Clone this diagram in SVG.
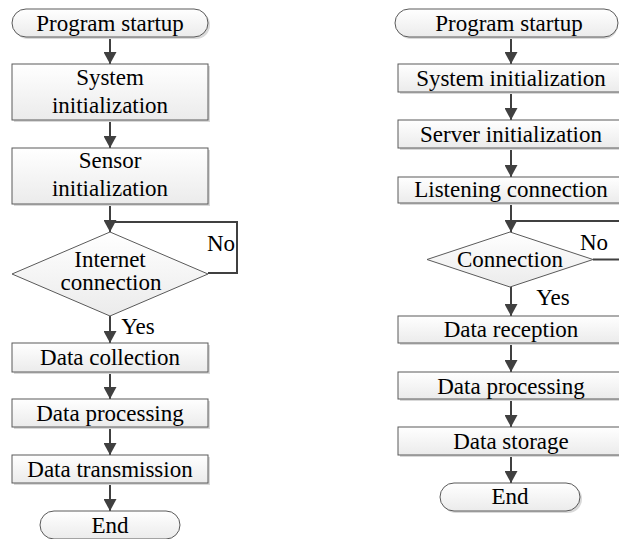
<svg xmlns="http://www.w3.org/2000/svg" width="619" height="539" viewBox="0 0 619 539">
<defs>
<linearGradient id="g" x1="0" y1="0" x2="0" y2="1">
<stop offset="0" stop-color="#ffffff"/>
<stop offset="1" stop-color="#ebebeb"/>
</linearGradient>
<marker id="ah" viewBox="0 0 12 13" refX="12" refY="6.5" markerWidth="12" markerHeight="13" markerUnits="userSpaceOnUse" orient="auto">
<path d="M0,0 L12,6.5 L0,13 z" fill="#404040"/>
</marker>
</defs>
<style>
.n{fill:url(#g);stroke:#5a5a5a;stroke-width:1}
.s{fill:#d9d9d9;stroke:none}
.t{font-family:'Liberation Serif','Times New Roman',Tinos,'Nimbus Roman','Noto Serif','DejaVu Serif',FreeSerif,Times,serif;font-size:23px;fill:#000;text-anchor:middle}
.c{fill:none;stroke:#404040;stroke-width:2}
.ca{fill:none;stroke:#404040;stroke-width:2;marker-end:url(#ah)}
</style>
<rect width="619" height="539" fill="#fff"/>
<g id="connectors">
<line class="ca" x1="110" y1="37" x2="110" y2="64"/>
<line class="ca" x1="110" y1="120" x2="110" y2="148"/>
<line class="ca" x1="110" y1="204" x2="110" y2="232"/>
<path class="c" d="M208,273 H237 V222 H110"/>
<line class="ca" x1="110" y1="316" x2="110" y2="343"/>
<line class="ca" x1="110" y1="372" x2="110" y2="399"/>
<line class="ca" x1="110" y1="427" x2="110" y2="455"/>
<line class="ca" x1="110" y1="483" x2="110" y2="511"/>
<line class="ca" x1="511" y1="37" x2="511" y2="64"/>
<line class="ca" x1="511" y1="92" x2="511" y2="120"/>
<line class="ca" x1="511" y1="148" x2="511" y2="177"/>
<line class="ca" x1="511" y1="203" x2="511" y2="232"/>
<path class="c" d="M593,259.5 H625 V221 H511"/>
<line class="ca" x1="511" y1="287" x2="511" y2="316"/>
<line class="ca" x1="511" y1="343" x2="511" y2="372"/>
<line class="ca" x1="511" y1="399" x2="511" y2="427"/>
<line class="ca" x1="511" y1="455" x2="511" y2="483"/>
<text class="t" x="221" y="251">No</text>
<text class="t" x="138" y="334">Yes</text>
<text class="t" x="594" y="250">No</text>
<text class="t" x="553" y="305">Yes</text>
</g>
<g id="L1"><rect class="s" x="14" y="11" width="196" height="28" rx="14"/><rect class="n" x="12" y="9" width="196" height="28" rx="14"/><text class="t" x="110" y="31">Program startup</text></g>
<g id="L2"><rect class="s" x="14" y="66" width="196" height="56"/><rect class="n" x="12" y="64" width="196" height="56"/><text class="t" x="110" y="85">System</text><text class="t" x="110" y="112.5">initialization</text></g>
<g id="L3"><rect class="s" x="14" y="150" width="196" height="56"/><rect class="n" x="12" y="148" width="196" height="56"/><text class="t" x="110" y="168">Sensor</text><text class="t" x="110" y="196">initialization</text></g>
<g id="L4"><polygon class="n" points="110,232 208,274 110,316 12,274"/><text class="t" x="110" y="267">Internet</text><text class="t" x="111" y="290">connection</text></g>
<g id="L5"><rect class="s" x="14" y="345" width="196" height="29"/><rect class="n" x="12" y="343" width="196" height="29"/><text class="t" x="110" y="365">Data collection</text></g>
<g id="L6"><rect class="s" x="14" y="401" width="196" height="28"/><rect class="n" x="12" y="399" width="196" height="28"/><text class="t" x="110" y="420.5">Data processing</text></g>
<g id="L7"><rect class="s" x="14" y="457" width="196" height="28"/><rect class="n" x="12" y="455" width="196" height="28"/><text class="t" x="110" y="476.5">Data transmission</text></g>
<g id="L8"><rect class="n" x="40" y="511" width="140" height="28" rx="14"/><text class="t" x="110" y="532.5">End</text></g>
<g id="R1"><rect class="s" x="397" y="11" width="221" height="28" rx="14"/><rect class="n" x="395" y="9" width="223" height="28" rx="14"/><text class="t" x="509" y="31">Program startup</text></g>
<g id="R2"><rect class="s" x="400" y="66" width="228" height="28"/><rect class="n" x="398" y="64" width="228" height="28"/><text class="t" x="511" y="85.5">System initialization</text></g>
<g id="R3"><rect class="s" x="400" y="122" width="228" height="28"/><rect class="n" x="398" y="120" width="228" height="28"/><text class="t" x="511" y="141.5">Server initialization</text></g>
<g id="R4"><rect class="s" x="400" y="179" width="228" height="26"/><rect class="n" x="398" y="177" width="228" height="26"/><text class="t" x="511" y="197">Listening connection</text></g>
<g id="R5"><polygon class="n" points="510,232 593,259.5 510,287 427,259.5"/><text class="t" x="510" y="267">Connection</text></g>
<g id="R6"><rect class="s" x="400" y="318" width="228" height="27"/><rect class="n" x="398" y="316" width="228" height="27"/><text class="t" x="511" y="337">Data reception</text></g>
<g id="R7"><rect class="s" x="400" y="374" width="228" height="27"/><rect class="n" x="398" y="372" width="228" height="27"/><text class="t" x="511" y="393.5">Data processing</text></g>
<g id="R8"><rect class="s" x="400" y="429" width="228" height="28"/><rect class="n" x="398" y="427" width="228" height="28"/><text class="t" x="511" y="448.5">Data storage</text></g>
<g id="R9"><rect class="s" x="442" y="485" width="140" height="28" rx="14"/><rect class="n" x="440" y="483" width="140" height="28" rx="14"/><text class="t" x="510" y="503.5">End</text></g>
</svg>
